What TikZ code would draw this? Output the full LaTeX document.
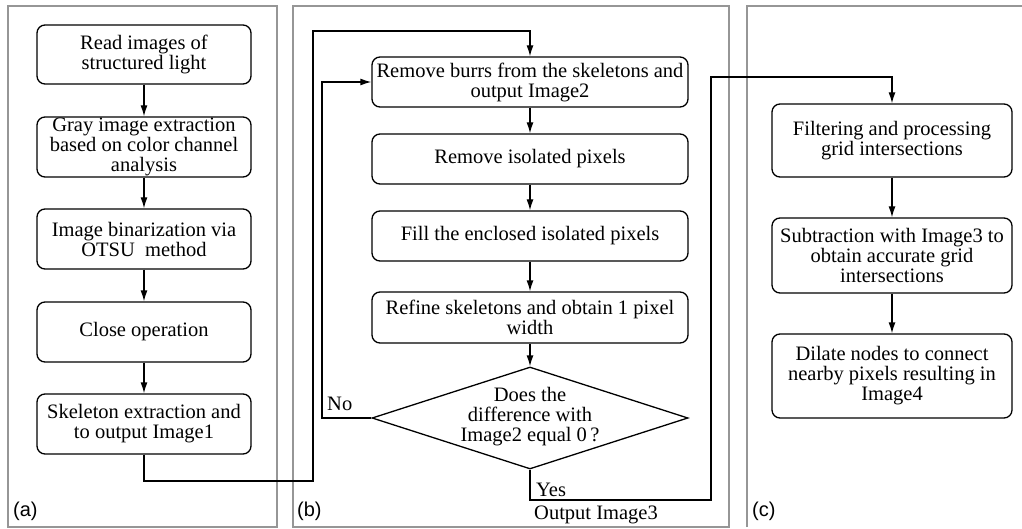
\documentclass[tikz,border=0pt]{standalone}
\usepackage{fontspec}
\setmainfont{Liberation Serif}
\newfontfamily\lblfont{Liberation Sans}
\usetikzlibrary{arrows.meta,shapes.geometric}
\definecolor{framegray}{RGB}{150,150,150}
\begin{document}
\begin{tikzpicture}[x=1pt,y=-1pt,
  box/.style={draw, line width=1.3pt, rounded corners=8pt, align=center, inner sep=0pt,
    font=\fontsize{20.5}{20}\selectfont},
  txt/.style={align=center, inner sep=0pt, font=\fontsize{20.5}{20}\selectfont},
  lbl/.style={inner sep=0pt, font=\lblfont\fontsize{20}{22}\selectfont},
  arr/.style={line width=1.3pt, -{Latex[length=11pt,width=7pt]}},
  frm/.style={draw=framegray, line width=1.5pt}]
\useasboundingbox (0,0) rectangle (1022,529);
% frames
\draw[frm] (8,6) rectangle (277,527);
\draw[frm] (293,6) rectangle (729,527);
\draw[frm] (747,527) -- (747,6) -- (1022,6);
% panel a
\node[box, minimum width=214pt, minimum height=59pt] (a1) at (144,54.5) {Read images of\\structured light};
\node[box, minimum width=214pt, minimum height=60pt] (a2) at (144,147) {Gray image extraction\\based on color channel\\analysis};
\node[box, minimum width=214pt, minimum height=60pt] (a3) at (144,239) {Image binarization via\\OTSU~ method};
\node[box, minimum width=214pt, minimum height=60pt] (a4) at (144,332) {Close operation};
\node[box, minimum width=214pt, minimum height=60pt] (a5) at (144,424) {Skeleton extraction and\\to output Image1};
\draw[arr] (a1) -- (a2);
\draw[arr] (a2) -- (a3);
\draw[arr] (a3) -- (a4);
\draw[arr] (a4) -- (a5);
% panel b
\node[box, minimum width=316pt, minimum height=50pt] (b1) at (530,82) {Remove burrs from the skeletons and\\output Image2};
\node[box, minimum width=316pt, minimum height=50pt] (b2) at (530,159) {Remove isolated pixels};
\node[box, minimum width=316pt, minimum height=50pt] (b3) at (530,236) {Fill the enclosed isolated pixels};
\node[box, minimum width=316pt, minimum height=51pt] (b4) at (530,317.5) {Refine skeletons and obtain 1 pixel\\width};
\node[draw, diamond, line width=1.3pt, minimum width=316pt, minimum height=102pt, inner sep=0pt] (d) at (530,418) {};
\node[txt] (dt) at (530,417) {Does the\\difference with\\Image2 equal 0\,?};
\draw[arr] (b1) -- (b2);
\draw[arr] (b2) -- (b3);
\draw[arr] (b3) -- (b4);
\draw[arr] (b4) -- (d);
\node[txt, anchor=west] (no) at (327,404) {No};
\node[txt, anchor=west] (yes) at (536,490) {Yes};
\node[txt] (out) at (596,515) {Output Image3};
% panel c
\node[box, minimum width=240pt, minimum height=73pt] (c1) at (892,140.5) {Filtering and processing\\grid intersections};
\node[box, minimum width=240pt, minimum height=75pt] (c2) at (892,255.5) {Subtraction with Image3 to\\obtain accurate grid\\intersections};
\node[box, minimum width=240pt, minimum height=84pt] (c3) at (892,376) {Dilate nodes to connect\\nearby pixels resulting in\\Image4};
\draw[arr] (c1) -- (c2);
\draw[arr] (c2) -- (c3);
% cross-panel connectors
\draw[arr] (a5.south) |- (313,481) |- (530,31) -- (b1.north);
\draw[arr] (d.west) -- (322,418) |- (b1.west);
\draw[arr] (d.south) |- (711,500) |- (892,77) -- (c1.north);
% panel labels
\node[lbl, anchor=west] (la) at (13,511) {(a)};
\node[lbl, anchor=west] (lb) at (297,511) {(b)};
\node[lbl, anchor=west] (lc) at (752,511) {(c)};
\end{tikzpicture}
\end{document}
